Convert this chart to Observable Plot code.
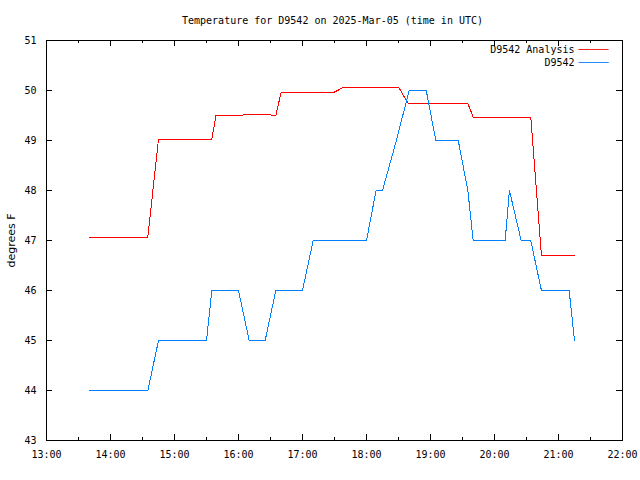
<!DOCTYPE html>
<html><head><meta charset="utf-8">
<script src="https://cdn.jsdelivr.net/npm/d3@7"></script>
<script src="https://cdn.jsdelivr.net/npm/@observablehq/plot@0.6"></script>
<style>body{margin:0;background:#fff}</style>
</head><body><div id="chart"></div>
<script>
const title = "Temperature for D9542 on 2025-Mar-05 (time in UTC)";
const yLabel = "degrees F";
const day = "2025-03-05";
const seriesNames = ["D9542 Analysis", "D9542"];
const seriesColors = ["#ff0000", "#0080ff"];

const analysisTimes = ["13:40","14:35","14:45","15:35","15:39","16:04","16:05","16:30","16:31","16:35","16:40","17:30","17:32","17:39","18:30","18:39","19:35","19:40","20:34","20:44","21:15"];
const analysisValues = [47.07,47.07,49.03,49.03,49.51,49.51,49.53,49.53,49.50,49.50,49.97,49.97,49.99,50.07,50.07,49.74,49.74,49.47,49.47,46.71,46.71];

const obsTimes = ["13:40","14:35","14:45","15:30","15:35","16:00","16:10","16:25","16:35","17:00","17:10","18:00","18:09","18:15","18:28","18:40","18:56","19:05","19:26","19:35","19:40","20:10","20:14","20:25","20:34","20:44","21:10","21:15"];
const obsValues = [44,44,45,45,46,46,45,45,46,46,47,47,48,48,49,50,50,49,49,48,47,47,48,47,47,46,46,45];

const xMajorTicks = ["13:00","14:00","15:00","16:00","17:00","18:00","19:00","20:00","21:00","22:00"];
const xMinorTicks = ["13:30","14:30","15:30","16:30","17:30","18:30","19:30","20:30","21:30"];
const yTicks = [43,44,45,46,47,48,49,50,51];

const toDate = s => new Date(`${day}T${s}:00Z`);
const series = [
  analysisTimes.map((t, i) => ({name: seriesNames[0], time: toDate(t), value: analysisValues[i]})),
  obsTimes.map((t, i) => ({name: seriesNames[1], time: toDate(t), value: obsValues[i]}))
];
const xMajor = xMajorTicks.map(toDate);
const xMinor = xMinorTicks.map(toDate);

const W = 640, H = 480, mL = 46, mR = 18, mT = 40, mB = 40;
const innerW = W - mL - mR, innerH = H - mT - mB;
const major = 6, minor = 3;

const marks = [
  Plot.frame({stroke: "black", shapeRendering: "crispEdges"}),
  Plot.tickX(xMajor, {x: d => d, insetTop: innerH - major, stroke: "black", shapeRendering: "crispEdges"}),
  Plot.tickX(xMajor, {x: d => d, insetBottom: innerH - major, stroke: "black", shapeRendering: "crispEdges"}),
  Plot.tickX(xMinor, {x: d => d, insetTop: innerH - minor, stroke: "black", shapeRendering: "crispEdges"}),
  Plot.tickX(xMinor, {x: d => d, insetBottom: innerH - minor, stroke: "black", shapeRendering: "crispEdges"}),
  Plot.tickY(yTicks, {y: d => d, insetRight: innerW - major, stroke: "black", shapeRendering: "crispEdges"}),
  Plot.tickY(yTicks, {y: d => d, insetLeft: innerW - major, stroke: "black", shapeRendering: "crispEdges"}),
  Plot.axisX(xMajor, {tickSize: 0, tickPadding: 10, tickFormat: d3.utcFormat("%H:%M"), label: null, fontSize: 10, fill: "black"}),
  Plot.axisY(yTicks, {tickSize: 0, tickPadding: 10, tickFormat: d3.format("d"), label: null, fontSize: 10, fill: "black"}),
  Plot.text([title], {frameAnchor: "top", lineAnchor: "middle", dy: -20, dx: -2, text: d => d, fontSize: 10, fill: "black"}),
  Plot.text([yLabel], {frameAnchor: "left", textAnchor: "middle", lineAnchor: "middle", dx: -35, rotate: -90, text: d => d, fontSize: 11, fontFamily: "DejaVu Sans", fill: "black"}),
];
series.forEach((s, i) => {
  marks.push(Plot.line(s, {x: "time", y: "value", stroke: seriesColors[i], strokeWidth: 1, shapeRendering: "crispEdges"}));
  marks.push(Plot.text([seriesNames[i]], {frameAnchor: "top-right", textAnchor: "end", lineAnchor: "middle", dx: -48, dy: 9 + 13.5 * i, text: d => d, fontSize: 10, fill: "black"}));
  marks.push(Plot.text(["\u2500\u2500\u2500\u2500\u2500"], {frameAnchor: "top-right", textAnchor: "start", lineAnchor: "middle", dx: -44, dy: 9 + 13.5 * i, text: d => d, fontSize: 10, fill: seriesColors[i]}));
});

const chart = Plot.plot({
  width: W, height: H,
  marginLeft: mL, marginRight: mR, marginTop: mT, marginBottom: mB,
  style: {fontFamily: "DejaVu Sans Mono", fontSize: "10px", background: "white", color: "black"},
  x: {type: "utc", domain: [toDate("13:00"), toDate("22:00")], axis: null},
  y: {domain: [43, 51], axis: null},
  marks
});
document.getElementById("chart").appendChild(chart);
</script>
</body></html>
